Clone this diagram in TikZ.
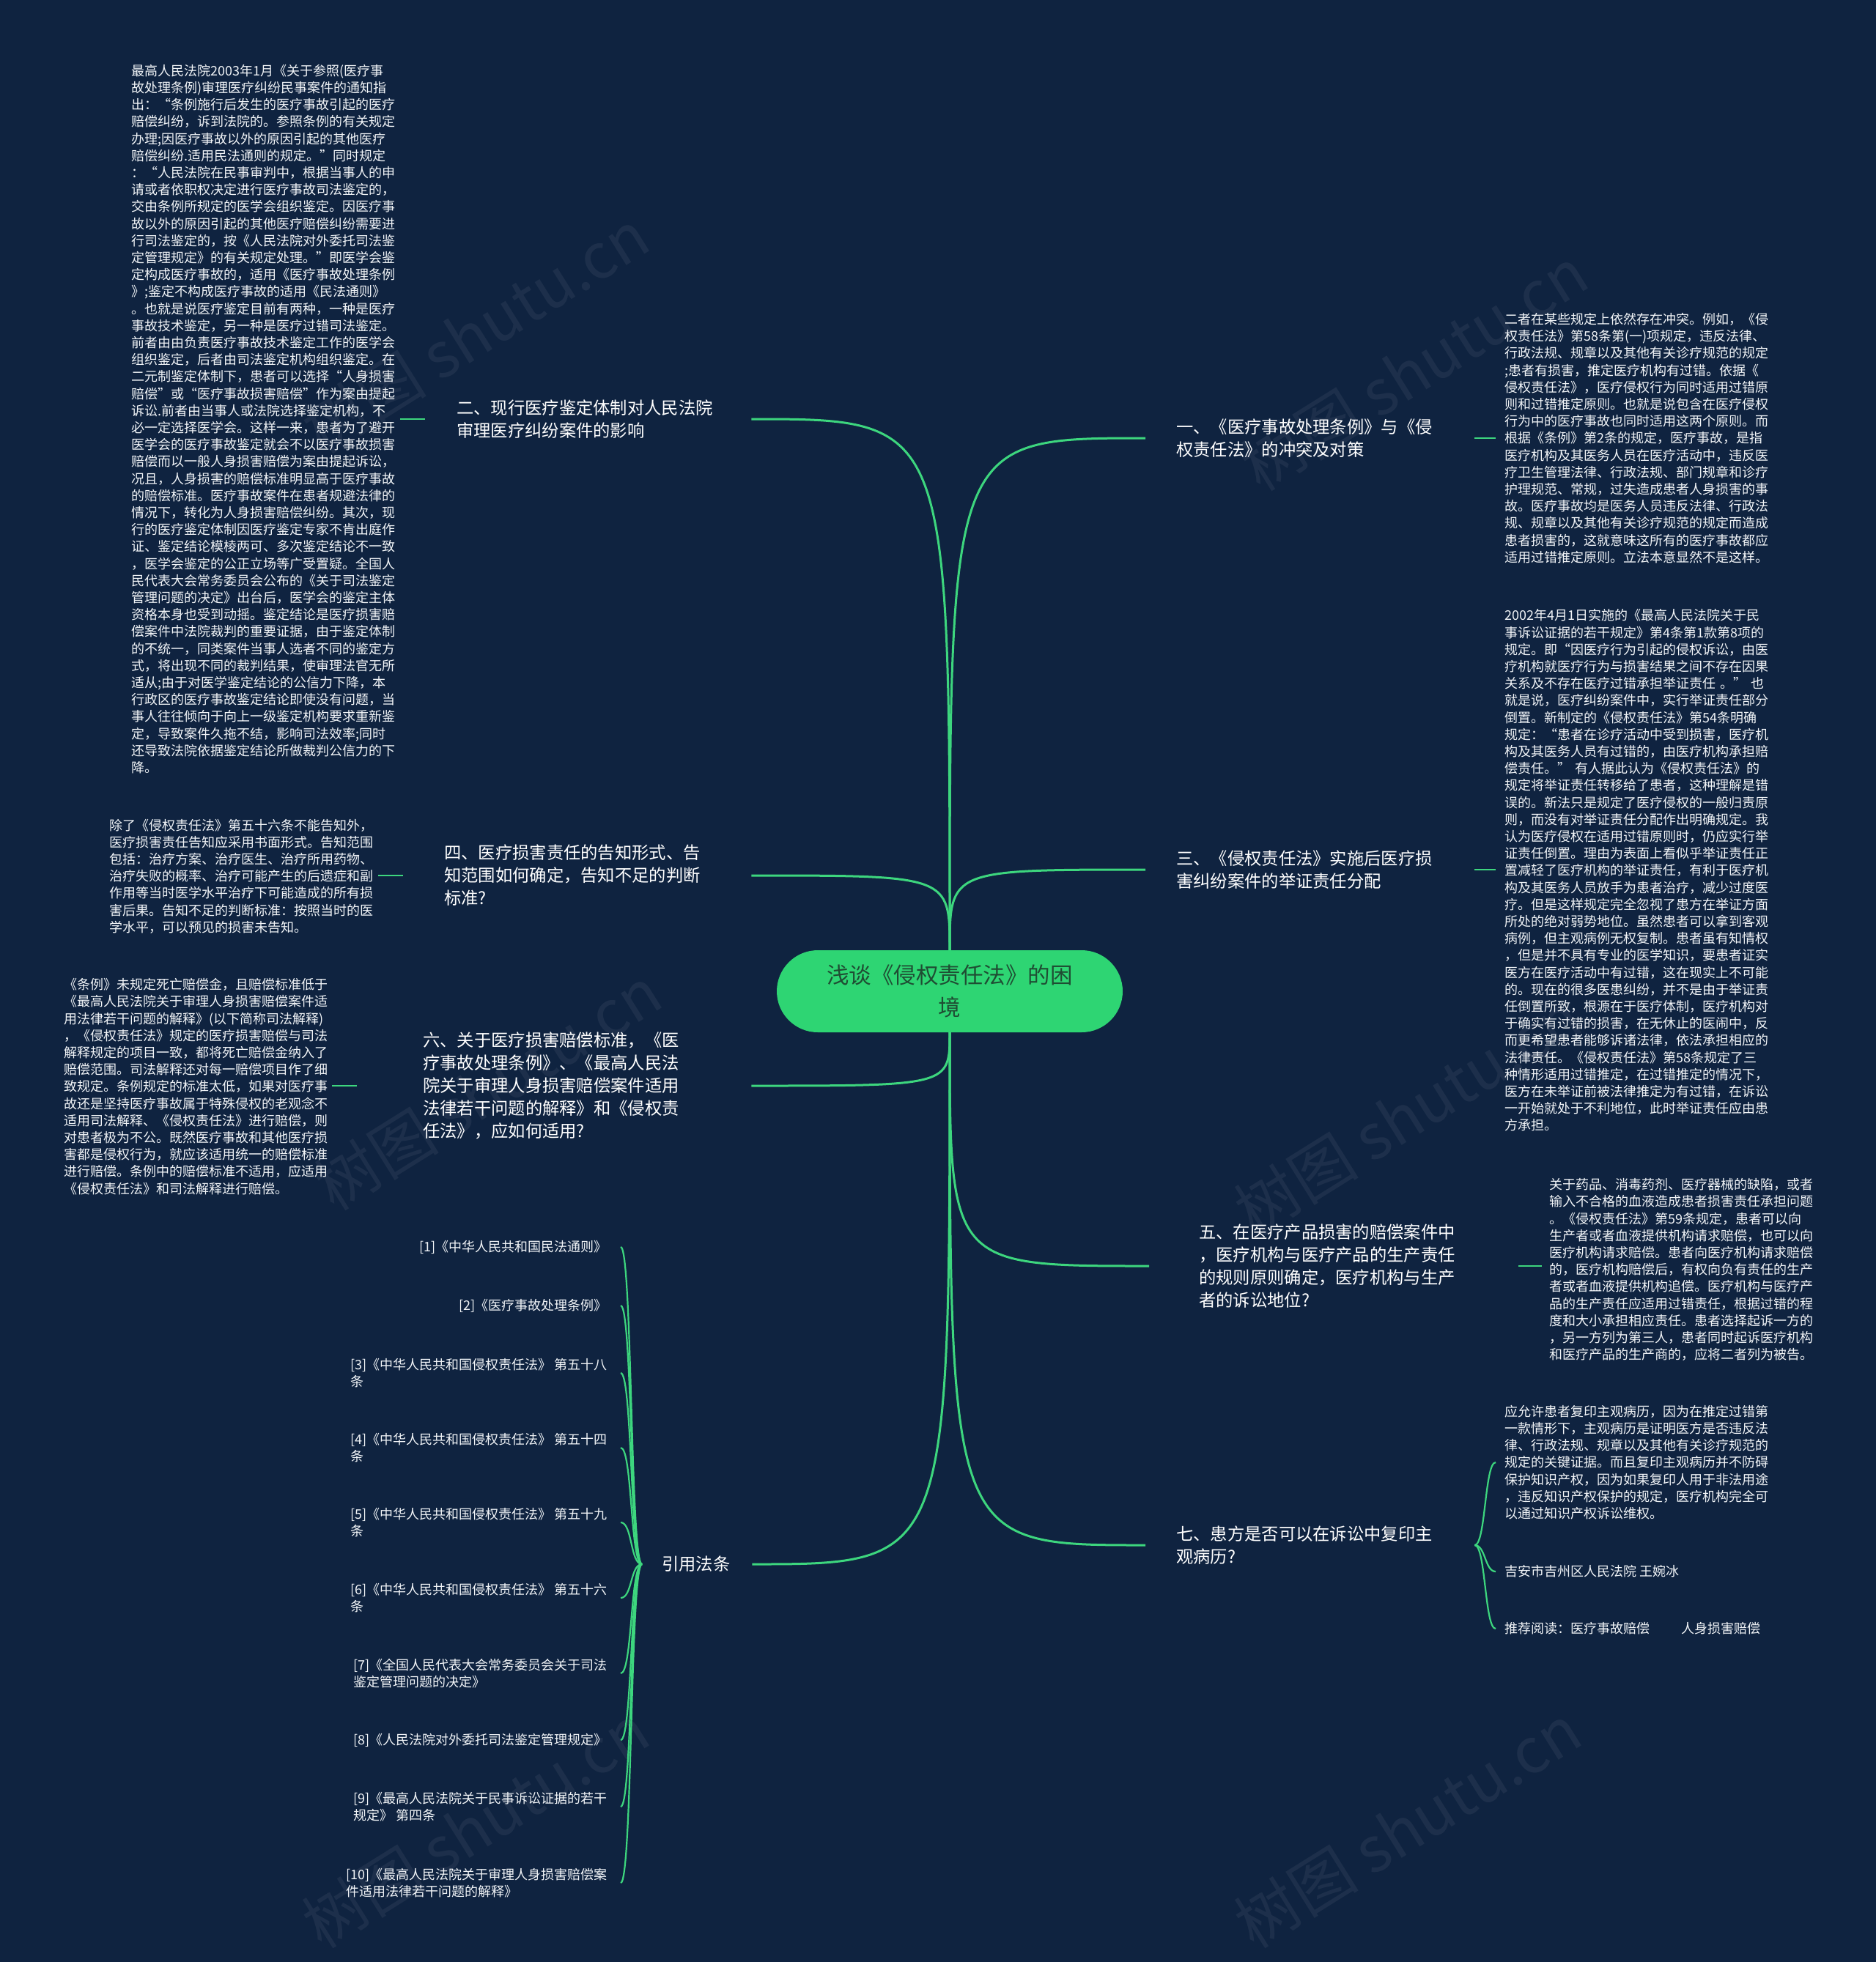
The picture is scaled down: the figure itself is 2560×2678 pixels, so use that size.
\documentclass[tikz,border=0pt]{standalone}
\usepackage{fontspec}
\setmainfont{Noto Sans CJK SC}
\definecolor{bgc}{HTML}{0F2340}
\definecolor{rootc}{HTML}{2ED573}
\definecolor{linec}{HTML}{3DD67E}
\definecolor{roottxt}{HTML}{1F4D33}
\definecolor{txtc}{HTML}{F2F5F8}
\begin{document}
\begin{tikzpicture}[x=1pt,y=-1pt,
  detail/.style={font=\fontsize{18}{23.2}\selectfont, text=txtc, align=left, inner ysep=0pt, anchor=west},
  titlenode/.style={font=\fontsize{23.3}{31}\selectfont, text=white, align=left, inner ysep=0pt, anchor=west},
  citenode/.style={font=\fontsize{18}{23}\selectfont, text=txtc, align=left, inner ysep=0pt, inner xsep=18pt, anchor=east},
  branch/.style={draw=linec, line width=3pt},
  twig/.style={draw=linec, line width=2.2pt},
  wm/.style={font=\fontsize{85}{85}\selectfont, text=white, text opacity=0.06, rotate=32}
]
\fill[bgc] (0,0) rectangle (2560,2678);
\useasboundingbox (0,0) rectangle (2560,2678);

% watermarks
\node[wm] (wm1) at (649,453) {树图 shutu.cn};
\node[wm] (wm2) at (1930,504) {树图 shutu.cn};
\node[wm] (wm3) at (666,1486) {树图 shutu.cn};
\node[wm] (wm4) at (1921,1520) {树图 shutu.cn};
\node[wm] (wm5) at (649,2493) {树图 shutu.cn};
\node[wm] (wm6) at (1921,2493) {树图 shutu.cn};

% root
\node[fill=rootc, rounded corners=56pt, minimum width=472pt, minimum height=112pt, inner sep=0pt,
  font=\fontsize{30.5}{44}\selectfont, text=roottxt, align=center] (root) at (1296,1353) {浅谈《侵权责任法》的困\\境};

% titles
\node[titlenode, inner xsep=43pt, text width=359pt] (L2t) at (580,572) {二、现行医疗鉴定体制对人民法院\\审理医疗纠纷案件的影响};
\node[titlenode, inner xsep=56pt, text width=363pt] (L4t) at (550,1195) {四、医疗损害责任的告知形式、告\\知范围如何确定，告知不足的判断\\标准?};
\node[titlenode, inner xsep=90pt, text width=358pt] (L6t) at (487,1482) {六、关于医疗损害赔偿标准，《医\\疗事故处理条例》、《最高人民法\\院关于审理人身损害赔偿案件适用\\法律若干问题的解释》和《侵权责\\任法》，应如何适用?};
\node[titlenode, inner xsep=27pt, text width=96pt] (Ct) at (876,2135) {引用法条};
\node[titlenode, inner xsep=42pt, text width=365pt] (R1t) at (1563,598) {一、《医疗事故处理条例》与《侵\\权责任法》的冲突及对策};
\node[titlenode, inner xsep=42pt, text width=365pt] (R3t) at (1563,1187) {三、《侵权责任法》实施后医疗损\\害纠纷案件的举证责任分配};
\node[titlenode, inner xsep=68pt, text width=368pt] (R5t) at (1568,1728) {五、在医疗产品损害的赔偿案件中\\，医疗机构与医疗产品的生产责任\\的规则原则确定，医疗机构与生产\\者的诉讼地位?};
\node[titlenode, inner xsep=42pt, text width=365pt] (R7t) at (1563,2109) {七、患方是否可以在诉讼中复印主\\观病历?};

% details
\node[detail, inner xsep=7pt, text width=360pt] (L2d) at (172,572) {最高人民法院2003年1月《关于参照(医疗事\\故处理条例)审理医疗纠纷民事案件的通知指\\出：“条例施行后发生的医疗事故引起的医疗\\赔偿纠纷，诉到法院的。参照条例的有关规定\\办理;因医疗事故以外的原因引起的其他医疗\\赔偿纠纷.适用民法通则的规定。”同时规定\\：“人民法院在民事审判中，根据当事人的申\\请或者依职权决定进行医疗事故司法鉴定的，\\交由条例所规定的医学会组织鉴定。因医疗事\\故以外的原因引起的其他医疗赔偿纠纷需要进\\行司法鉴定的，按《人民法院对外委托司法鉴\\定管理规定》的有关规定处理。”即医学会鉴\\定构成医疗事故的，适用《医疗事故处理条例\\》;鉴定不构成医疗事故的适用《民法通则》\\。也就是说医疗鉴定目前有两种，一种是医疗\\事故技术鉴定，另一种是医疗过错司法鉴定。\\前者由由负责医疗事故技术鉴定工作的医学会\\组织鉴定，后者由司法鉴定机构组织鉴定。在\\二元制鉴定体制下，患者可以选择“人身损害\\赔偿”或“医疗事故损害赔偿”作为案由提起\\诉讼.前者由当事人或法院选择鉴定机构，不\\必一定选择医学会。这样一来，患者为了避开\\医学会的医疗事故鉴定就会不以医疗事故损害\\赔偿而以一般人身损害赔偿为案由提起诉讼，\\况且，人身损害的赔偿标准明显高于医疗事故\\的赔偿标准。医疗事故案件在患者规避法律的\\情况下，转化为人身损害赔偿纠纷。其次，现\\行的医疗鉴定体制因医疗鉴定专家不肯出庭作\\证、鉴定结论模棱两可、多次鉴定结论不一致\\，医学会鉴定的公正立场等广受置疑。全国人\\民代表大会常务委员会公布的《关于司法鉴定\\管理问题的决定》出台后，医学会的鉴定主体\\资格本身也受到动摇。鉴定结论是医疗损害赔\\偿案件中法院裁判的重要证据，由于鉴定体制\\的不统一，同类案件当事人选者不同的鉴定方\\式，将出现不同的裁判结果，使审理法官无所\\适从;由于对医学鉴定结论的公信力下降，本\\行政区的医疗事故鉴定结论即使没有问题，当\\事人往往倾向于向上一级鉴定机构要求重新鉴\\定，导致案件久拖不结，影响司法效率;同时\\还导致法院依据鉴定结论所做裁判公信力的下\\降。};

\node[detail, inner xsep=7pt, text width=360pt] (L4d) at (142,1196) {除了《侵权责任法》第五十六条不能告知外，\\医疗损害责任告知应采用书面形式。告知范围\\包括：治疗方案、治疗医生、治疗所用药物、\\治疗失败的概率、治疗可能产生的后遗症和副\\作用等当时医学水平治疗下可能造成的所有损\\害后果。告知不足的判断标准：按照当时的医\\学水平，可以预见的损害未告知。};

\node[detail, inner xsep=7pt, text width=359pt] (L6d) at (80,1483) {《条例》未规定死亡赔偿金，且赔偿标准低于\\《最高人民法院关于审理人身损害赔偿案件适\\用法律若干问题的解释》(以下简称司法解释)\\，《侵权责任法》规定的医疗损害赔偿与司法\\解释规定的项目一致，都将死亡赔偿金纳入了\\赔偿范围。司法解释还对每一赔偿项目作了细\\致规定。条例规定的标准太低，如果对医疗事\\故还是坚持医疗事故属于特殊侵权的老观念不\\适用司法解释、《侵权责任法》进行赔偿，则\\对患者极为不公。既然医疗事故和其他医疗损\\害都是侵权行为，就应该适用统一的赔偿标准\\进行赔偿。条例中的赔偿标准不适用，应适用\\《侵权责任法》和司法解释进行赔偿。};

\node[detail, inner xsep=12pt, text width=370pt] (R1d) at (2041,598) {二者在某些规定上依然存在冲突。例如，《侵\\权责任法》第58条第(一)项规定，违反法律、\\行政法规、规章以及其他有关诊疗规范的规定\\;患者有损害，推定医疗机构有过错。依据《\\侵权责任法》，医疗侵权行为同时适用过错原\\则和过错推定原则。也就是说包含在医疗侵权\\行为中的医疗事故也同时适用这两个原则。而\\根据《条例》第2条的规定，医疗事故，是指\\医疗机构及其医务人员在医疗活动中，违反医\\疗卫生管理法律、行政法规、部门规章和诊疗\\护理规范、常规，过失造成患者人身损害的事\\故。医疗事故均是医务人员违反法律、行政法\\规、规章以及其他有关诊疗规范的规定而造成\\患者损害的，这就意味这所有的医疗事故都应\\适用过错推定原则。立法本意显然不是这样。};

\node[detail, inner xsep=12pt, text width=370pt] (R3d) at (2041,1188) {2002年4月1日实施的《最高人民法院关于民\\事诉讼证据的若干规定》第4条第1款第8项的\\规定。即“因医疗行为引起的侵权诉讼，由医\\疗机构就医疗行为与损害结果之间不存在因果\\关系及不存在医疗过错承担举证责任 。” 也\\就是说，医疗纠纷案件中，实行举证责任部分\\倒置。新制定的《侵权责任法》第54条明确\\规定：“患者在诊疗活动中受到损害，医疗机\\构及其医务人员有过错的，由医疗机构承担赔\\偿责任。” 有人据此认为《侵权责任法》的\\规定将举证责任转移给了患者，这种理解是错\\误的。新法只是规定了医疗侵权的一般归责原\\则，而没有对举证责任分配作出明确规定。我\\认为医疗侵权在适用过错原则时，仍应实行举\\证责任倒置。理由为表面上看似乎举证责任正\\置减轻了医疗机构的举证责任，有利于医疗机\\构及其医务人员放手为患者治疗，减少过度医\\疗。但是这样规定完全忽视了患方在举证方面\\所处的绝对弱势地位。虽然患者可以拿到客观\\病例，但主观病例无权复制。患者虽有知情权\\，但是并不具有专业的医学知识，要患者证实\\医方在医疗活动中有过错，这在现实上不可能\\的。现在的很多医患纠纷，并不是由于举证责\\任倒置所致，根源在于医疗体制，医疗机构对\\于确实有过错的损害，在无休止的医闹中，反\\而更希望患者能够诉诸法律，依法承担相应的\\法律责任。《侵权责任法》第58条规定了三\\种情形适用过错推定，在过错推定的情况下，\\医方在未举证前被法律推定为有过错，在诉讼\\一开始就处于不利地位，此时举证责任应由患\\方承担。};

\node[detail, inner xsep=10pt, text width=370pt] (R5d) at (2104,1733) {关于药品、消毒药剂、医疗器械的缺陷，或者\\输入不合格的血液造成患者损害责任承担问题\\。《侵权责任法》第59条规定，患者可以向\\生产者或者血液提供机构请求赔偿，也可以向\\医疗机构请求赔偿。患者向医疗机构请求赔偿\\的，医疗机构赔偿后，有权向负有责任的生产\\者或者血液提供机构追偿。医疗机构与医疗产\\品的生产责任应适用过错责任，根据过错的程\\度和大小承担相应责任。患者选择起诉一方的\\，另一方列为第三人，患者同时起诉医疗机构\\和医疗产品的生产商的，应将二者列为被告。};

\node[detail, inner xsep=12pt, text width=370pt] (R7d) at (2041,1996) {应允许患者复印主观病历，因为在推定过错第\\一款情形下，主观病历是证明医方是否违反法\\律、行政法规、规章以及其他有关诊疗规范的\\规定的关键证据。而且复印主观病历并不防碍\\保护知识产权，因为如果复印人用于非法用途\\，违反知识产权保护的规定，医疗机构完全可\\以通过知识产权诉讼维权。};
\node[detail, inner xsep=12pt] (R7a) at (2041,2145) {吉安市吉州区人民法院 王婉冰};
\node[detail, inner xsep=12pt] (R7b) at (2041,2223) {推荐阅读：医疗事故赔偿\hspace{43pt}人身损害赔偿};

% citations
\node[citenode] (c1) at (847,1702) {[1]《中华人民共和国民法通则》};
\node[citenode] (c2) at (847,1782) {[2]《医疗事故处理条例》};
\node[citenode] (c3) at (847,1874) {[3]《中华人民共和国侵权责任法》 第五十八\\条};
\node[citenode] (c4) at (847,1976) {[4]《中华人民共和国侵权责任法》 第五十四\\条};
\node[citenode] (c5) at (847,2078) {[5]《中华人民共和国侵权责任法》 第五十九\\条};
\node[citenode] (c6) at (847,2181) {[6]《中华人民共和国侵权责任法》 第五十六\\条};
\node[citenode] (c7) at (847,2284) {[7]《全国人民代表大会常务委员会关于司法\\鉴定管理问题的决定》};
\node[citenode] (c8) at (847,2375) {[8]《人民法院对外委托司法鉴定管理规定》};
\node[citenode] (c9) at (847,2466) {[9]《最高人民法院关于民事诉讼证据的若干\\规定》 第四条};
\node[citenode] (c10) at (847,2570) {[10]《最高人民法院关于审理人身损害赔偿案\\件适用法律若干问题的解释》};

% main branches
\foreach \n in {L2t,L4t}
  \draw[branch] (root.north) .. controls (root.north |- \n.east) .. (\n.east);
\foreach \n in {R1t,R3t}
  \draw[branch] (root.north) .. controls (root.north |- \n.west) .. (\n.west);
\foreach \n in {L6t,Ct}
  \draw[branch] (root.south) .. controls (root.south |- \n.east) .. (\n.east);
\foreach \n in {R5t,R7t}
  \draw[branch] (root.south) .. controls (root.south |- \n.west) .. (\n.west);

% straight connectors to detail texts
\draw[twig] (L2t.west) -- (L2t.west -| L2d.east);
\draw[twig] (L4t.west) -- (L4t.west -| L4d.east);
\draw[twig] (L6t.west) -- (L6t.west -| L6d.east);
\draw[twig] (R1t.east) -- (R1t.east -| R1d.west);
\draw[twig] (R3t.east) -- (R3t.east -| R3d.west);
\draw[twig] (R5t.east) -- (R5t.east -| R5d.west);

% R7 bracket
\foreach \n in {R7d,R7a,R7b}
  \draw[twig] (R7t.east) .. controls +(15,0) and +(-15,0) .. (\n.west);

% citation bracket
\foreach \n in {c1,c2,c3,c4,c5,c6,c7,c8,c9,c10}
  \draw[twig] (Ct.west) .. controls +(-16,0) and +(16,0) .. (\n.east);
\end{tikzpicture}
\end{document}
